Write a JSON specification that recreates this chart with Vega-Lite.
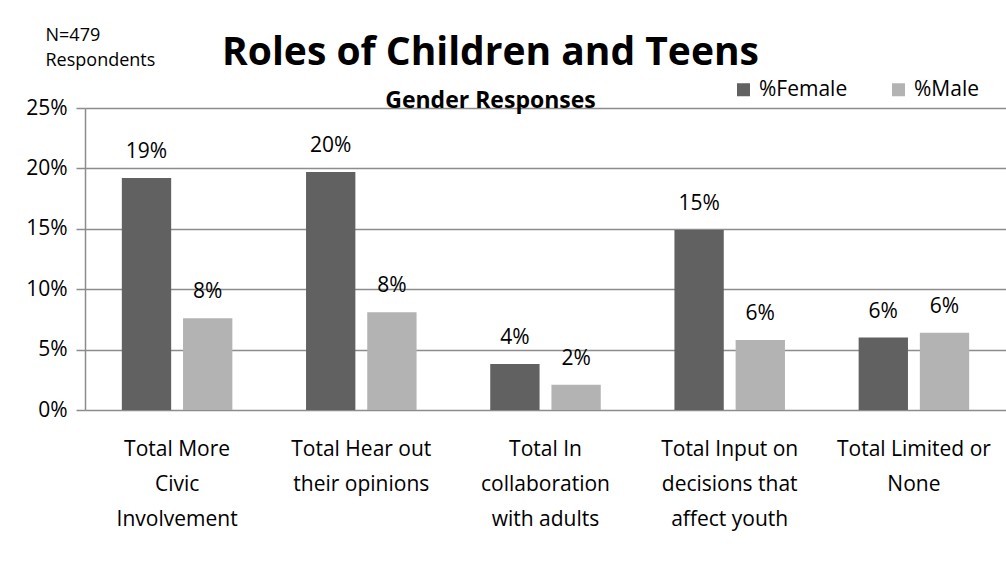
{
  "$schema": "https://vega.github.io/schema/vega-lite/v6.json",
  "width": 921,
  "height": 302,
  "autosize": {"type": "none"},
  "padding": {"left": 85, "top": 108, "right": 0, "bottom": 151},
  "background": "white",
  "config": {"font": "Open Sans", "view": {"stroke": null}},
  "title": {
    "text": "Roles of Children and Teens",
    "subtitle": "Gender Responses",
    "frame": "group",
    "anchor": "middle",
    "dx": -55,
    "dy": 85,
    "offset": -2,
    "font": "Open Sans",
    "fontSize": 39,
    "fontWeight": "bold",
    "color": "black",
    "subtitleFont": "Open Sans",
    "subtitleFontSize": 23,
    "subtitleFontWeight": "bold",
    "subtitleColor": "black",
    "subtitlePadding": 17
  },
  "data": {
    "values": [
      {"category": "Total More|Civic|Involvement", "gender": "%Female", "value": 0.192},
      {"category": "Total More|Civic|Involvement", "gender": "%Male", "value": 0.076},
      {"category": "Total Hear out|their opinions", "gender": "%Female", "value": 0.197},
      {"category": "Total Hear out|their opinions", "gender": "%Male", "value": 0.081},
      {"category": "Total In|collaboration|with adults", "gender": "%Female", "value": 0.038},
      {"category": "Total In|collaboration|with adults", "gender": "%Male", "value": 0.021},
      {"category": "Total Input on|decisions that|affect youth", "gender": "%Female", "value": 0.149},
      {"category": "Total Input on|decisions that|affect youth", "gender": "%Male", "value": 0.058},
      {"category": "Total Limited or|None", "gender": "%Female", "value": 0.060},
      {"category": "Total Limited or|None", "gender": "%Male", "value": 0.064}
    ]
  },
  "encoding": {
    "x": {
      "field": "category",
      "type": "nominal",
      "sort": ["Total More|Civic|Involvement", "Total Hear out|their opinions", "Total In|collaboration|with adults", "Total Input on|decisions that|affect youth", "Total Limited or|None"],
      "scale": {"paddingInner": 0.4, "paddingOuter": 0.2},
      "axis": {
        "title": null,
        "labelAngle": 0,
        "labelExpr": "split(datum.label, '|')",
        "labelFont": "Open Sans",
        "labelFontSize": 21,
        "labelColor": "black",
        "labelLineHeight": 35,
        "labelPadding": 28,
        "labelBaseline": "top",
        "ticks": false,
        "domain": false,
        "grid": false
      }
    },
    "xOffset": {
      "field": "gender",
      "type": "nominal",
      "sort": ["%Female", "%Male"],
      "scale": {"paddingInner": 0.194}
    },
    "y": {
      "field": "value",
      "type": "quantitative",
      "scale": {"domain": [0, 0.25]},
      "axis": {
        "title": ["N=479", "Respondents"],
        "titleAngle": 0,
        "titleAlign": "left",
        "titleBaseline": "alphabetic",
        "titleX": -40,
        "titleY": -68,
        "titleFont": "Open Sans",
        "titleFontSize": 18,
        "titleFontWeight": "normal",
        "titleColor": "black",
        "titleLineHeight": 25,
        "values": [0, 0.05, 0.1, 0.15, 0.2, 0.25],
        "format": ".0%",
        "labelFont": "Open Sans",
        "labelFontSize": 21,
        "labelColor": "black",
        "labelPadding": 9,
        "tickSize": 9,
        "tickColor": "#8c8c8c",
        "tickWidth": 1.5,
        "domainColor": "#8c8c8c",
        "domainWidth": 1.5,
        "gridColor": "#8c8c8c",
        "gridWidth": 1.5
      }
    }
  },
  "layer": [
    {
      "mark": {"type": "bar"},
      "encoding": {
        "color": {
          "field": "gender",
          "type": "nominal",
          "sort": ["%Female", "%Male"],
          "scale": {"domain": ["%Female", "%Male"], "range": ["#616161", "#b3b3b3"]},
          "legend": {
            "title": null,
            "orient": "none",
            "legendX": 648,
            "legendY": -29,
            "direction": "horizontal",
            "symbolType": "square",
            "symbolSize": 169,
            "symbolStrokeWidth": 0,
            "labelFont": "Open Sans",
            "labelFontSize": 21,
            "labelColor": "black",
            "labelOffset": 5,
            "columnPadding": 40
          }
        }
      }
    },
    {
      "mark": {"type": "text", "dy": -16, "fontSize": 21, "font": "Open Sans", "color": "black", "baseline": "bottom"},
      "encoding": {
        "text": {"field": "value", "type": "quantitative", "format": ".0%"}
      }
    }
  ]
}
